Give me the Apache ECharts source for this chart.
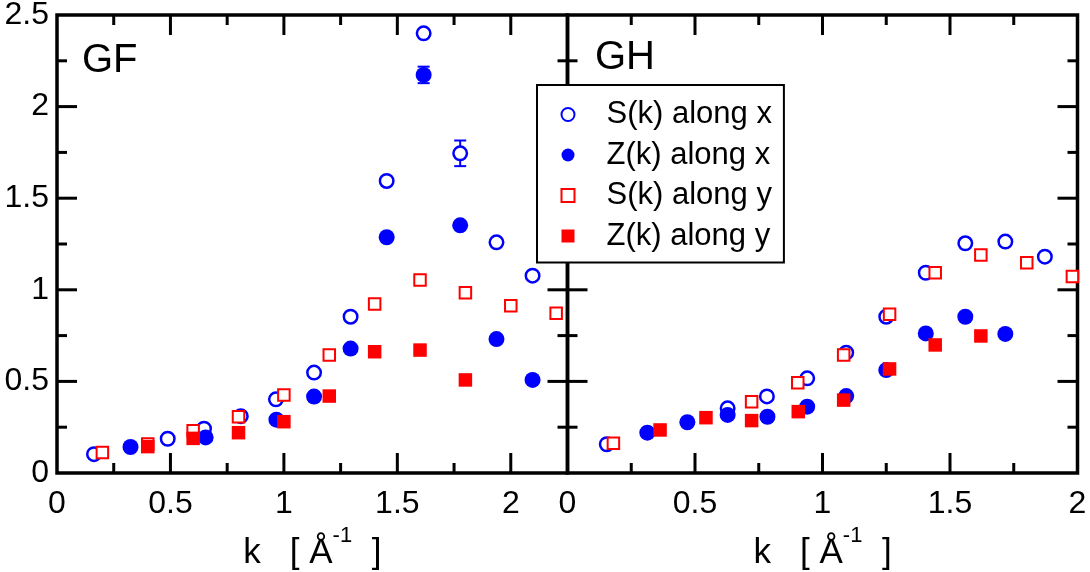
<!DOCTYPE html>
<html>
<head>
<meta charset="utf-8">
<script src="https://cdn.jsdelivr.net/npm/echarts@6/dist/echarts.min.js"></script>
<style>
  html, body { margin: 0; padding: 0; background: #fff; }
  #main { width: 1090px; height: 572px; }
</style>
</head>
<body>
<div id="main"></div>
<script>
// GF panel (left)
const gfSxK = [0.163, 0.488, 0.648, 0.81, 0.965, 1.133, 1.294, 1.453, 1.616, 1.777, 1.937, 2.096];
const gfSxV = [0.103, 0.187, 0.242, 0.310, 0.402, 0.548, 0.853, 1.594, 2.400, 1.745, 1.259, 1.077];
const gfSxErr = [0, 0, 0, 0, 0, 0, 0, 0, 0, 0.07, 0, 0];
const gfZxK = [0.324, 0.655, 0.967, 1.133, 1.294, 1.453, 1.616, 1.777, 1.937, 2.096];
const gfZxV = [0.142, 0.194, 0.291, 0.417, 0.679, 1.287, 2.173, 1.352, 0.731, 0.508];
const gfZxErr = [0, 0, 0, 0, 0, 0, 0.045, 0, 0, 0];
const gfSyK = [0.2, 0.4, 0.6, 0.8, 1.0, 1.2, 1.4, 1.6, 1.8, 2.0, 2.2];
const gfSyV = [0.112, 0.158, 0.230, 0.307, 0.426, 0.644, 0.922, 1.053, 0.984, 0.913, 0.872];
const gfZyK = [0.4, 0.6, 0.8, 1.0, 1.2, 1.4, 1.6, 1.8];
const gfZyV = [0.144, 0.189, 0.220, 0.280, 0.420, 0.662, 0.671, 0.508];

// GH panel (right)
const ghSxK = [0.154, 0.628, 0.782, 0.94, 1.093, 1.25, 1.405, 1.56, 1.717, 1.872];
const ghSxV = [0.157, 0.353, 0.418, 0.517, 0.657, 0.853, 1.093, 1.254, 1.263, 1.181];
const ghZxK = [0.313, 0.47, 0.628, 0.784, 0.94, 1.093, 1.25, 1.405, 1.56, 1.717];
const ghZxV = [0.220, 0.277, 0.317, 0.307, 0.362, 0.420, 0.562, 0.762, 0.853, 0.759];
const ghSyK = [0.18, 0.722, 0.903, 1.083, 1.263, 1.442, 1.621, 1.801, 1.98];
const ghSyV = [0.162, 0.389, 0.493, 0.644, 0.866, 1.093, 1.190, 1.148, 1.072];
const ghZyK = [0.363, 0.543, 0.722, 0.905, 1.083, 1.263, 1.442, 1.621];
const ghZyV = [0.235, 0.302, 0.286, 0.335, 0.398, 0.568, 0.699, 0.748];

const seriesNames = ['S(k) along x', 'Z(k) along x', 'S(k) along y', 'Z(k) along y'];
const panelLabels = ['GF', 'GH'];
const xMax = [2.25, 2];
const yMax = 2.5;
// tick values (major = long tick, minor = short tick)
const xMajorTicks = [[0.5, 1, 1.5, 2], [0.5, 1, 1.5]];
const xMinorTicks = [[0.25, 0.75, 1.25, 1.75], [0.25, 0.75, 1.25, 1.75]];
const yMajorTicks = [0.5, 1, 1.5, 2];
const yMinorTicks = [0.25, 0.75, 1.25, 1.75, 2.25];

const BLUE = '#0000ff';
const RED = '#ff0000';
const FONT = 'Liberation Sans';
const MAJOR_LEN = 20, MINOR_LEN = 10, TICK_W = 3;

let chart = echarts.init(document.getElementById('main'));

const pairs = (ks, vs) => ks.map((k, i) => [k, vs[i]]);
const errData = (ks, vs, es) => ks.map((k, i) => [k, vs[i], es[i]]).filter(d => d[2] > 0);

const tickLabel = () => ({show: true, fontSize: 32, color: '#000', fontFamily: FONT});
const axisName = '{n|k   [ Å}{s|-1}{n|  ]}';
const nameStyle = () => ({
  color: '#000', fontFamily: FONT,
  rich: {
    n: {fontSize: 35, fontFamily: FONT, color: '#000'},
    s: {fontSize: 22, fontFamily: FONT, color: '#000', padding: [0, 0, 34, 0]}
  }
});

function xAxis(g) {
  return {
    type: 'value', gridIndex: g, position: 'bottom', min: 0, max: xMax[g], interval: 0.5,
    axisLine: {show: false}, axisTick: {show: false}, splitLine: {show: false},
    axisLabel: Object.assign(tickLabel(), {margin: 15, showMaxLabel: g === 1}),
    name: axisName, nameLocation: 'middle', nameGap: 44, nameTextStyle: nameStyle()
  };
}

function yAxis(g) {
  return {
    type: 'value', gridIndex: g, position: 'left', min: 0, max: yMax, interval: 0.5,
    axisLine: {show: false}, axisTick: {show: false}, splitLine: {show: false},
    axisLabel: g === 0 ? Object.assign(tickLabel(), {margin: 8}) : {show: false}
  };
}

function scatter(name, data, g, filled, shape, color) {
  const size = shape === 'circle' ? (filled ? 16 : 13.5) : (filled ? 13.5 : 11.5);
  return {
    name: name, type: 'scatter', xAxisIndex: g, yAxisIndex: g,
    symbol: shape, symbolSize: size, data: data, z: 3,
    itemStyle: filled
      ? {color: color, borderWidth: 0, opacity: 1}
      : {color: '#fff', borderColor: color, borderWidth: shape === 'circle' ? 2.5 : 2, opacity: 1},
    emphasis: {disabled: true}
  };
}

function errorBars(data, g) {
  return {
    type: 'custom', xAxisIndex: g, yAxisIndex: g, z: 2, data: data,
    encode: {x: 0, y: 1},
    renderItem: function (params, api) {
      const x = api.value(0), y = api.value(1), e = api.value(2);
      const hi = api.coord([x, y + e]);
      const lo = api.coord([x, y - e]);
      const st = {stroke: BLUE, lineWidth: 2};
      return {
        type: 'group',
        children: [
          {type: 'line', shape: {x1: hi[0], y1: hi[1], x2: lo[0], y2: lo[1]}, style: st},
          {type: 'line', shape: {x1: hi[0] - 6, y1: hi[1], x2: hi[0] + 6, y2: hi[1]}, style: st},
          {type: 'line', shape: {x1: lo[0] - 6, y1: lo[1], x2: lo[0] + 6, y2: lo[1]}, style: st}
        ]
      };
    }
  };
}

// 刻度线用细长矩形符号画在四条边上，偏移半个长度让它朝内
function tickItems(g, xMaj, xMin, yMaj, yMin) {
  const items = [];
  const addX = (vals, len) => vals.forEach(v => {
    items.push({value: [v, 0], symbolSize: [TICK_W, len], symbolOffset: [0, -len / 2]});
    items.push({value: [v, yMax], symbolSize: [TICK_W, len], symbolOffset: [0, len / 2]});
  });
  const addY = (vals, len) => vals.forEach(v => {
    items.push({value: [0, v], symbolSize: [len, TICK_W], symbolOffset: [len / 2, 0]});
    items.push({value: [xMax[g], v], symbolSize: [len, TICK_W], symbolOffset: [-len / 2, 0]});
  });
  addX(xMaj, MAJOR_LEN); addX(xMin, MINOR_LEN);
  addY(yMaj, MAJOR_LEN); addY(yMin, MINOR_LEN);
  return {
    type: 'scatter', xAxisIndex: g, yAxisIndex: g, z: 4, silent: true, clip: false,
    symbol: 'rect', data: items,
    itemStyle: {color: '#000', opacity: 1, borderWidth: 0},
    emphasis: {disabled: true}
  };
}

const titleStyle = {fontSize: 40, fontWeight: 'normal', color: '#000', fontFamily: FONT};
const frame = {show: true, borderColor: '#000', borderWidth: 3.5, backgroundColor: 'transparent',
  containLabel: false, outerBoundsMode: 'none'};

chart.setOption({
  animation: false,
  backgroundColor: '#fff',
  textStyle: {fontFamily: FONT},
  title: [
    {text: panelLabels[0], left: 82, top: 41, padding: 0, textStyle: titleStyle},
    {text: panelLabels[1], left: 595, top: 38, padding: 0, textStyle: titleStyle}
  ],
  grid: [
    Object.assign({left: 57, top: 15, width: 510.5, height: 458}, frame),
    Object.assign({left: 567.5, top: 15, width: 510, height: 458}, frame)
  ],
  legend: {
    data: seriesNames,
    orient: 'vertical',
    left: 537, top: 85,
    padding: [14, 12, 11, 23.5],
    itemGap: 9.5,
    itemWidth: 13, itemHeight: 13,
    backgroundColor: '#fff',
    borderColor: '#000', borderWidth: 2,
    borderRadius: 0,
    textStyle: {fontSize: 31, lineHeight: 30, color: '#000', fontFamily: FONT, padding: [0, 0, 0, 27]},
    selectedMode: false,
    z: 10
  },
  xAxis: [xAxis(0), xAxis(1)],
  yAxis: [yAxis(0), yAxis(1)],
  series: [
    tickItems(0, xMajorTicks[0], xMinorTicks[0], yMajorTicks, yMinorTicks),
    tickItems(1, xMajorTicks[1], xMinorTicks[1], yMajorTicks, yMinorTicks),
    errorBars(errData(gfSxK, gfSxV, gfSxErr), 0),
    errorBars(errData(gfZxK, gfZxV, gfZxErr), 0),
    scatter(seriesNames[0], pairs(gfSxK, gfSxV), 0, false, 'circle', BLUE),
    scatter(seriesNames[1], pairs(gfZxK, gfZxV), 0, true, 'circle', BLUE),
    scatter(seriesNames[2], pairs(gfSyK, gfSyV), 0, false, 'rect', RED),
    scatter(seriesNames[3], pairs(gfZyK, gfZyV), 0, true, 'rect', RED),
    scatter(seriesNames[0], pairs(ghSxK, ghSxV), 1, false, 'circle', BLUE),
    scatter(seriesNames[1], pairs(ghZxK, ghZxV), 1, true, 'circle', BLUE),
    scatter(seriesNames[2], pairs(ghSyK, ghSyV), 1, false, 'rect', RED),
    scatter(seriesNames[3], pairs(ghZyK, ghZyV), 1, true, 'rect', RED)
  ]
});
</script>
</body>
</html>
